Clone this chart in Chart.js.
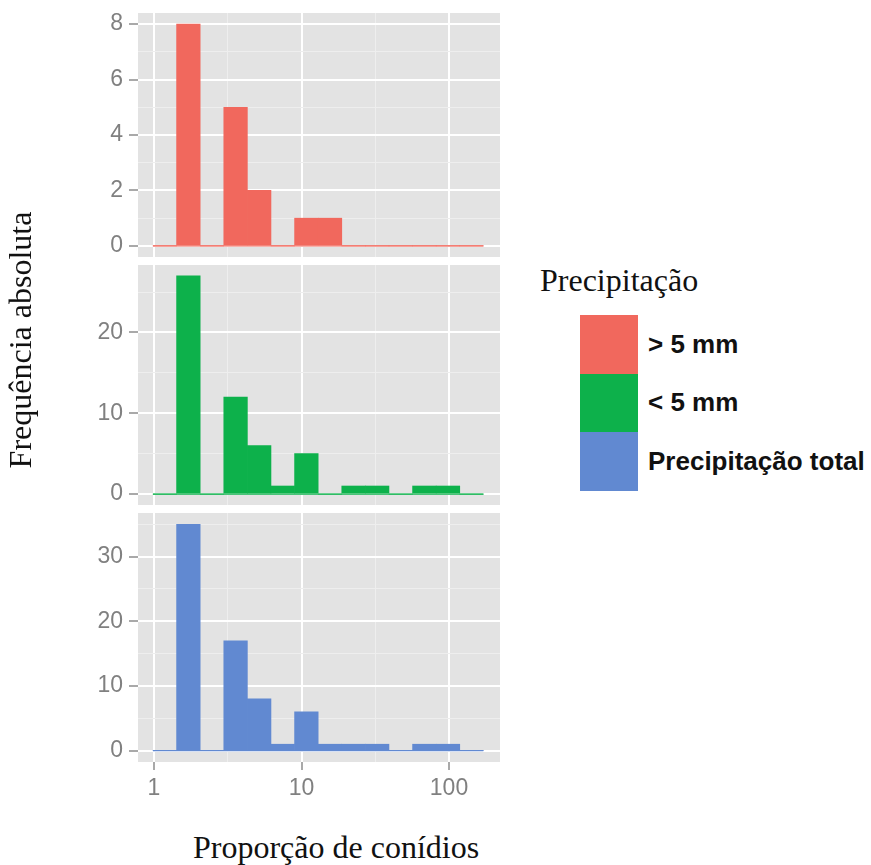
<!DOCTYPE html>
<html>
<head>
<meta charset="utf-8">
<script src="https://cdn.jsdelivr.net/npm/chart.js@4/dist/chart.umd.min.js"></script>
<style>
    html, body { margin: 0; padding: 0; background: #fff; }
    #pagina { position: relative; width: 871px; height: 865px; overflow: hidden; }
    canvas { position: absolute; left: 0; }
    .serif { position: absolute; font-family: "Liberation Serif", "Times New Roman", serif; font-size: 32px; line-height: 32px; color: #111; white-space: nowrap; }
    #legenda { position: absolute; left: 580px; top: 315px; }
    .item { display: flex; align-items: center; height: 58.5px; }
    .chave { width: 58px; height: 58.5px; }
    .rotulo { margin-left: 10px; font-family: "Liberation Sans", Arial, sans-serif; font-weight: bold; font-size: 26px; color: #111; white-space: nowrap; }
</style>
</head>
<body>
<div id="pagina">
    <canvas id="painel-1" width="500" height="257" style="top:0px"></canvas>
    <canvas id="painel-2" width="500" height="248" style="top:257px"></canvas>
    <canvas id="painel-3" width="500" height="300" style="top:505px"></canvas>

    <div class="serif" style="left:-130px; top:324px; width:300px; height:32px; text-align:center; transform:rotate(-90deg)">Frequência absoluta</div>
    <div class="serif" style="left:193px; top:831px">Proporção de conídios</div>
    <div class="serif" style="left:540px; top:264px">Precipitação</div>
    <div id="legenda"></div>
</div>
<script>
// ================================================================
// Histogramas (escala log) — proporção de conídios por precipitação
// ================================================================

// centros das classes (eixo x em log10)
const centrosClasses = [1.183, 1.710, 2.472, 3.573, 5.164, 7.464, 10.79, 15.60, 22.54, 32.58, 47.10, 68.08, 98.40, 142.2];
const limitesClasses = [0.984, 171.0];

const contagemMaior5  = [0, 8, 0, 5, 2, 0, 1, 1, 0, 0, 0, 0, 0, 0];
const contagemMenor5  = [0, 27, 0, 12, 6, 1, 5, 0, 1, 1, 0, 1, 1, 0];
const contagemTotal   = [0, 35, 0, 17, 8, 1, 6, 1, 1, 1, 0, 1, 1, 0];

const nomesSeries = ['> 5 mm', '< 5 mm', 'Precipitação total'];
const coresSeries = ['#f1685d', '#0db14b', '#6189d1'];

const ticksX      = [1, 10, 100];
const ticksXMenor = [3.162, 31.62];

const ticksY      = [[0, 2, 4, 6, 8], [0, 10, 20], [0, 10, 20, 30]];
const ticksYMenor = [[1, 3, 5, 7], [5, 15, 25], [5, 15, 25, 35]];
const limitesY    = [[-0.4, 8.4], [-1.35, 28.35], [-1.75, 36.75]];

const FONTE_TICK = { family: '"Liberation Sans", Arial, sans-serif', size: 23 };
const COR_TICK = '#808080';

// fundo cinza do painel (estilo ggplot)
const fundoPainel = {
    id: 'fundoPainel',
    beforeDraw(chart) {
        const { ctx, chartArea: a } = chart;
        ctx.save();
        ctx.fillStyle = '#e3e3e3';
        ctx.fillRect(a.left, a.top, a.right - a.left, a.bottom - a.top);
        ctx.restore();
    }
};

function gradeEstilo(maiores, mostrarTicks) {
    const ehMaior = c => c.tick && maiores.includes(c.tick.value);
    return {
        offset: false,
        color: c => ehMaior(c) ? '#ffffff' : '#eeeeee',
        lineWidth: c => ehMaior(c) ? 2 : 1,
        tickColor: c => ehMaior(c) ? '#8c8c8c' : 'rgba(0,0,0,0)',
        tickWidth: 1.5,
        drawTicks: mostrarTicks,
        tickLength: mostrarTicks ? 8 : 0
    };
}

function renderizarPainel(idx, contagens, mostrarEixoX) {
    const canvas = document.getElementById('painel-' + (idx + 1));
    const cor = coresSeries[idx];
    const maioresY = ticksY[idx];

    new Chart(canvas, {
        type: 'bar',
        data: {
            datasets: [
                {
                    type: 'line',
                    data: limitesClasses.map(x => ({ x, y: 0 })),
                    borderColor: cor,
                    borderWidth: 1.2,
                    pointRadius: 0,
                    order: 0
                },
                {
                    label: nomesSeries[idx],
                    data: centrosClasses.map((x, i) => ({ x, y: contagens[i] })),
                    backgroundColor: cor,
                    borderWidth: 0,
                    barPercentage: 1,
                    categoryPercentage: 1,
                    order: 1
                }
            ]
        },
        options: {
            responsive: false,
            animation: false,
            events: [],
            layout: { padding: { top: 8 + (idx === 0 ? 5 : 0), right: 0, bottom: 0, left: 0 } },
            plugins: { legend: { display: false }, tooltip: { enabled: false } },
            scales: {
                x: {
                    type: 'logarithmic',
                    offset: false,
                    min: 0.7788,
                    max: 221.7,
                    border: { display: false },
                    afterBuildTicks: ax => {
                        ax.ticks = [...ticksX, ...ticksXMenor].sort((a, b) => a - b).map(v => ({ value: v }));
                    },
                    afterFit: ax => {
                        ax.height = mostrarEixoX ? 43 : 0;
                        ax.paddingLeft = 0;
                        ax.paddingRight = 0;
                    },
                    grid: gradeEstilo(ticksX, mostrarEixoX),
                    ticks: {
                        display: mostrarEixoX,
                        autoSkip: false,
                        maxRotation: 0,
                        padding: 5,
                        font: FONTE_TICK,
                        color: COR_TICK,
                        callback: v => ticksX.includes(v) ? String(v) : ''
                    }
                },
                y: {
                    min: limitesY[idx][0],
                    max: limitesY[idx][1],
                    border: { display: false },
                    afterBuildTicks: ax => {
                        ax.ticks = [...maioresY, ...ticksYMenor[idx]].sort((a, b) => a - b).map(v => ({ value: v }));
                    },
                    afterFit: ax => {
                        ax.width = 138;
                        ax.paddingTop = 0;
                        ax.paddingBottom = 0;
                    },
                    grid: Object.assign(gradeEstilo(maioresY, true), { tickLength: 9 }),
                    ticks: {
                        autoSkip: false,
                        padding: 6,
                        font: FONTE_TICK,
                        color: COR_TICK,
                        callback: v => maioresY.includes(v) ? String(v) : ''
                    }
                }
            }
        },
        plugins: [fundoPainel]
    });
}

function renderizarLegenda() {
    const caixa = document.getElementById('legenda');
    nomesSeries.forEach((nome, i) => {
        const item = document.createElement('div');
        item.className = 'item';
        item.innerHTML = `<div class="chave" style="background:${coresSeries[i]}"></div><div class="rotulo">${nome}</div>`;
        caixa.appendChild(item);
    });
}

renderizarPainel(0, contagemMaior5, false);
renderizarPainel(1, contagemMenor5, false);
renderizarPainel(2, contagemTotal, true);
renderizarLegenda();
</script>
</body>
</html>
